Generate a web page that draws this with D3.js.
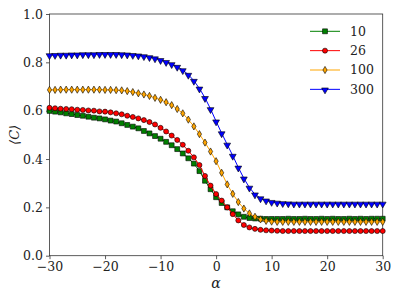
<!DOCTYPE html>
<html>
<head>
<meta charset="utf-8">
<script src="https://cdn.jsdelivr.net/npm/d3@7"></script>
<style>
  html, body {
    margin: 0;
    padding: 0;
    background: #fff;
  }

  svg text {
    font-family: "DejaVu Serif", serif;
    fill: #222;
  }
</style>
</head>
<body>
<svg id="chart" width="399" height="299"></svg>
<script>
  // x values (alpha)
  const alpha = [
    -30, -29, -28, -27, -26, -25, -24, -23, -22, -21,
    -20, -19, -18, -17, -16, -15, -14, -13, -12, -11,
    -10, -9, -8, -7, -6, -5, -4, -3, -2, -1,
    0, 1, 2, 3, 4, 5, 6, 7, 8, 9,
    10, 11, 12, 13, 14, 15, 16, 17, 18, 19,
    20, 21, 22, 23, 24, 25, 26, 27, 28, 29, 30
  ];

  const seriesNames = ['10', '26', '100', '300'];

  const c10 = [
    0.599, 0.596, 0.593, 0.589, 0.586, 0.582, 0.579, 0.575, 0.571, 0.568,
    0.564, 0.559, 0.555, 0.548, 0.541, 0.534, 0.527, 0.516, 0.506, 0.495,
    0.484, 0.471, 0.457, 0.441, 0.423, 0.403, 0.381, 0.350, 0.310, 0.275,
    0.242, 0.218, 0.200, 0.184, 0.171, 0.161, 0.156, 0.154, 0.153, 0.152,
    0.152, 0.152, 0.152, 0.153, 0.152, 0.152, 0.153, 0.152, 0.152, 0.153,
    0.152, 0.153, 0.152, 0.152, 0.153, 0.152, 0.153, 0.152, 0.153, 0.153, 0.153
  ];

  const c26 = [
    0.612, 0.610, 0.608, 0.607, 0.606, 0.604, 0.603, 0.601, 0.600, 0.597,
    0.596, 0.593, 0.589, 0.585, 0.579, 0.574, 0.568, 0.561, 0.553, 0.543,
    0.529, 0.514, 0.497, 0.479, 0.459, 0.434, 0.407, 0.375, 0.330, 0.290,
    0.255, 0.228, 0.200, 0.172, 0.146, 0.127, 0.117, 0.111, 0.107, 0.105,
    0.104, 0.103, 0.102, 0.102, 0.102, 0.102, 0.102, 0.102, 0.102, 0.102,
    0.102, 0.102, 0.102, 0.102, 0.102, 0.102, 0.102, 0.102, 0.102, 0.102, 0.102
  ];

  const c100 = [
    0.686, 0.686, 0.687, 0.687, 0.687, 0.687, 0.687, 0.687, 0.687, 0.687,
    0.686, 0.686, 0.685, 0.684, 0.681, 0.677, 0.672, 0.667, 0.661, 0.653,
    0.645, 0.635, 0.623, 0.607, 0.589, 0.563, 0.535, 0.503, 0.468, 0.431,
    0.391, 0.343, 0.295, 0.256, 0.222, 0.195, 0.175, 0.161, 0.150, 0.144,
    0.141, 0.140, 0.140, 0.140, 0.140, 0.140, 0.140, 0.140, 0.140, 0.140,
    0.140, 0.140, 0.140, 0.140, 0.140, 0.140, 0.140, 0.140, 0.140, 0.140, 0.140
  ];

  const c300 = [
    0.830, 0.831, 0.832, 0.832, 0.833, 0.833, 0.834, 0.834, 0.834, 0.835,
    0.835, 0.835, 0.835, 0.834, 0.833, 0.831, 0.829, 0.826, 0.822, 0.817,
    0.810, 0.802, 0.793, 0.782, 0.768, 0.749, 0.724, 0.692, 0.653, 0.607,
    0.556, 0.507, 0.460, 0.414, 0.365, 0.320, 0.282, 0.254, 0.238, 0.229,
    0.223, 0.220, 0.218, 0.217, 0.216, 0.216, 0.216, 0.216, 0.216, 0.216,
    0.216, 0.216, 0.216, 0.216, 0.216, 0.216, 0.216, 0.216, 0.216, 0.216, 0.216
  ];

  const xTicks = [-30, -20, -10, 0, 10, 20, 30];
  const yTicks = [0.0, 0.2, 0.4, 0.6, 0.8, 1.0];

  const colors = ['green', 'red', 'orange', 'blue'];
  const markers = ['square', 'circle', 'diamond', 'triangle'];
  const values = [c10, c26, c100, c300];

  const margin = {top: 14, right: 16.3, bottom: 43.3, left: 49.5};
  const width = 399 - margin.left - margin.right;
  const height = 299 - margin.top - margin.bottom;

  const serif = '"DejaVu Serif", serif';

  const svg = d3.select('#chart');
  const g = svg.append('g')
    .attr('transform', 'translate(' + margin.left + ',' + margin.top + ')');

  const x = d3.scaleLinear().domain([-30, 30]).range([0, width]);
  const y = d3.scaleLinear().domain([0, 1]).range([height, 0]);

  const minus = (s) => s.replace('-', '\u2212');

  // axes
  const xAxis = g.append('g')
    .attr('transform', 'translate(0,' + height + ')')
    .call(d3.axisBottom(x).tickValues(xTicks).tickSize(3.5).tickPadding(3)
      .tickFormat((d) => minus(String(d))));
  const yAxis = g.append('g')
    .call(d3.axisLeft(y).tickValues(yTicks).tickSize(3.5).tickPadding(3)
      .tickFormat(d3.format('.1f')));

  [xAxis, yAxis].forEach((ax) => {
    ax.attr('font-family', serif);
    ax.select('.domain').remove();
    ax.selectAll('line').attr('stroke', '#333').attr('stroke-width', 0.8);
    ax.selectAll('text').attr('font-size', 12.5).attr('fill', '#333')
      .style('font-family', serif);
  });

  // frame
  g.append('rect')
    .attr('width', width)
    .attr('height', height)
    .attr('fill', 'none')
    .attr('stroke', '#333')
    .attr('stroke-width', 0.8);

  function symbolFor(kind) {
    if (kind === 'square') return d3.symbol().type(d3.symbolSquare).size(24);
    if (kind === 'circle') return d3.symbol().type(d3.symbolCircle).size(20);
    if (kind === 'triangle') return d3.symbol().type(d3.symbolTriangle).size(20);
    return null;
  }

  function drawMarker(sel, kind) {
    if (kind === 'diamond') {
      sel.append('path').attr('d', 'M0,-3.6L2.1,0L0,3.6L-2.1,0Z');
    } else if (kind === 'triangle') {
      sel.append('path').attr('d', symbolFor(kind)()).attr('transform', 'rotate(180) translate(0,-0.6)');
    } else {
      sel.append('path').attr('d', symbolFor(kind)());
    }
  }

  const line = d3.line()
    .x((d) => x(d[0]))
    .y((d) => y(d[1]));

  const plot = g.append('g');

  values.forEach((vals, i) => {
    const pts = alpha.map((a, j) => [a, vals[j]]);
    const s = plot.append('g');
    s.append('path')
      .datum(pts)
      .attr('d', line)
      .attr('fill', 'none')
      .attr('stroke', colors[i])
      .attr('stroke-width', 1);

    const m = s.selectAll('g.pt')
      .data(pts)
      .enter().append('g')
      .attr('class', 'pt')
      .attr('transform', (d) => 'translate(' + x(d[0]) + ',' + y(d[1]) + ')');
    m.each(function() {
      drawMarker(d3.select(this), markers[i]);
    });
    m.selectAll('path')
      .attr('fill', colors[i])
      .attr('stroke', '#000')
      .attr('stroke-width', 0.6);
  });

  // legend
  const legend = g.append('g')
    .attr('transform', 'translate(' + (310 - margin.left) + ',' + (31.3 - margin.top) + ')');
  seriesNames.forEach((name, i) => {
    const row = legend.append('g').attr('transform', 'translate(0,' + (i * 19.35) + ')');
    row.append('line')
      .attr('x1', 0).attr('x2', 30)
      .attr('stroke', colors[i])
      .attr('stroke-width', 1);
    const mk = row.append('g').attr('transform', 'translate(15,0)');
    drawMarker(mk, markers[i]);
    mk.selectAll('path')
      .attr('fill', colors[i])
      .attr('stroke', '#000')
      .attr('stroke-width', 0.6);
    row.append('text')
      .attr('x', 40)
      .attr('dy', '0.35em')
      .attr('font-size', 12.5)
      .attr('fill', '#333')
      .text(name);
  });

  // axis labels
  svg.append('text')
    .attr('transform', 'translate(19,' + (margin.top + height / 2) + ') rotate(-90)')
    .attr('text-anchor', 'middle')
    .attr('font-size', 13)
    .attr('font-style', 'italic')
    .text('\u27E8C\u27E9');

  svg.append('text')
    .attr('x', margin.left + width / 2)
    .attr('y', 288)
    .attr('text-anchor', 'middle')
    .attr('font-size', 14)
    .attr('font-style', 'italic')
    .text('\u03B1');
</script>
</body>
</html>
